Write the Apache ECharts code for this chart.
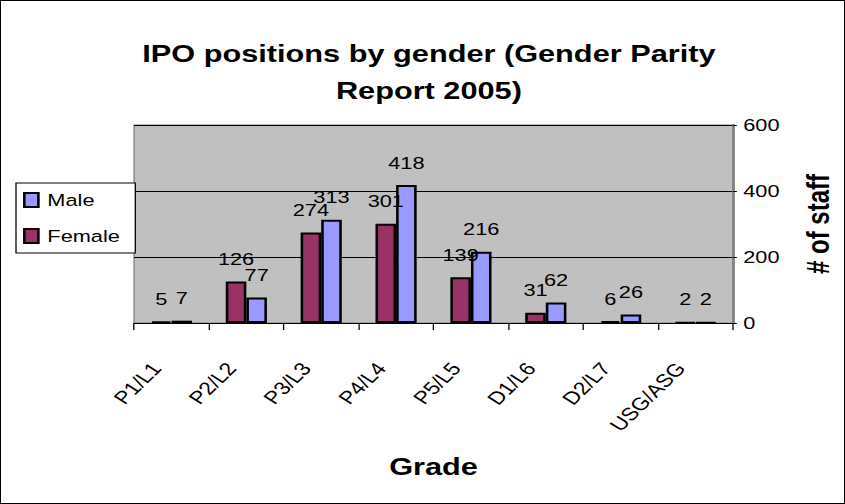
<!DOCTYPE html>
<html><head><meta charset="utf-8">
<script src="https://cdn.jsdelivr.net/npm/echarts@6/dist/echarts.min.js"></script>
<style>
html,body{margin:0;padding:0;background:#fff}
#wrap{position:relative;width:845px;height:504px;overflow:hidden;background:#fff}
#c{position:absolute;left:0;top:0;width:660px;height:504px;transform:scaleX(1.28030);transform-origin:0 0}
#frame{position:absolute;left:0;top:0;width:845px;height:504px;box-sizing:border-box;border:1px solid #000;pointer-events:none}
</style>
</head><body><div id="wrap"><div id="c"></div><div id="frame"></div></div>
<script>
const categories = ['P1/L1','P2/L2','P3/L3','P4/L4','P5/L5','D1/L6','D2/L7','USG/ASG'];
const female = [5,126,274,301,139,31,6,2];
const male = [7,77,313,418,216,62,26,2];
const yTicks = [0,200,400,600];

const chart = echarts.init(document.getElementById('c'), null, {renderer:'svg', width:660, height:504});
const font = 'Arial, "Liberation Sans", sans-serif';
const small = 17;
chart.setOption({
  animation:false,
  title:{text:'IPO positions by gender (Gender Parity\nReport 2005)',left:330,top:30,textAlign:'center',
    textStyle:{fontFamily:font,fontSize:24,fontWeight:'bold',color:'#000',lineHeight:37}},
  legend:{orient:'vertical',left:12.5,top:183,padding:[8,12,8,5.5],itemGap:18,
    borderColor:'#000',borderWidth:1,backgroundColor:'#fff',
    itemWidth:11,itemHeight:14,icon:'rect',data:['Male','Female'],
    textStyle:{fontFamily:font,fontSize:small,lineHeight:18,color:'#000',padding:[0,0,0,2]}},
  grid:{left:104.7,right:87.5,top:125,bottom:181,show:true,backgroundColor:'#c0c0c0',borderColor:'#808080',borderWidth:1},
  xAxis:{type:'category',data:categories,
    axisLine:{lineStyle:{color:'#000'}},axisTick:{show:true,length:7,lineStyle:{color:'#000'}},
    axisLabel:{rotate:51,fontFamily:font,fontSize:18,color:'#000',margin:27,padding:[0,19,0,0]},
    name:'Grade',nameLocation:'middle',nameGap:132,
    nameTextStyle:{fontFamily:font,fontSize:24,fontWeight:'bold',color:'#000'}},
  yAxis:{type:'value',position:'right',min:0,max:600,interval:200,
    axisLine:{show:true,lineStyle:{color:'#808080',width:2}},axisTick:{show:true,length:3,lineStyle:{color:'#000'}},
    axisLabel:{fontFamily:font,fontSize:small,color:'#000',margin:8,formatter:v=>yTicks.includes(v)?String(v):''},
    splitLine:{show:true,lineStyle:{color:'#000',width:1}},
    name:'# of staff',nameLocation:'middle',nameGap:55,nameRotate:90,
    nameTextStyle:{fontFamily:font,fontSize:24,fontWeight:'bold',color:'#000'}},
  series:[
    {name:'Female',type:'bar',data:female,barGap:'0%',barCategoryGap:'45%',
      itemStyle:{color:'#993366',borderColor:'#000',borderWidth:2},
      label:{show:true,position:'top',distance:14,fontFamily:font,fontSize:small,color:'#000'}},
    {name:'Male',type:'bar',data:male,
      itemStyle:{color:'#9999ff',borderColor:'#000',borderWidth:2},
      label:{show:true,position:'top',distance:14,fontFamily:font,fontSize:small,color:'#000'}}
  ]
});
</script></body></html>
